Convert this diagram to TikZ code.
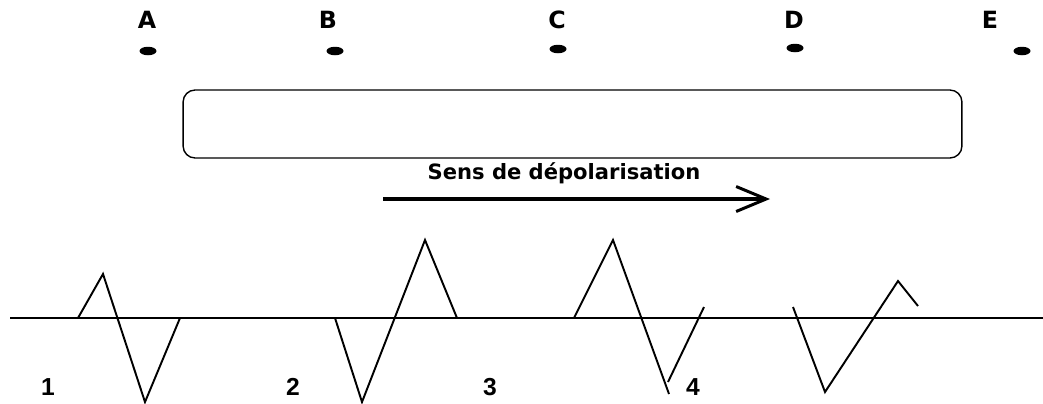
\documentclass[tikz,border=0pt]{standalone}
\usepackage{fontspec}
\setmainfont{Liberation Sans}
\newfontfamily\widefont{DejaVu Sans}
\usepackage{tikz}
\usetikzlibrary{arrows.meta,positioning,shapes.geometric}

\begin{document}
\begin{tikzpicture}[
    x=0.02cm, y=-0.02cm,
    point/.style={ellipse, fill=black, inner sep=0pt, minimum width=0.34cm, minimum height=0.17cm},
    letter/.style={font=\widefont\bfseries\fontsize{13.5}{15}\selectfont, inner sep=0pt},
    number/.style={font=\bfseries\fontsize{14}{16}\selectfont, inner sep=0pt},
    wave/.style={line width=1.1pt, line join=miter},
    sensarrow/.style={-{Straight Barb[length=0.6cm, width=0.5cm, line width=1.7pt]}, line width=1.9pt}
]
\useasboundingbox (0,0) rectangle (1043,403);
\node[letter] (lA) at (147,20) {A};
\node[letter] (lB) at (328,20) {B};
\node[letter] (lC) at (557,20) {C};
\node[letter] (lD) at (794,20) {D};
\node[letter] (lE) at (990,20) {E};
\node[point] (pA) at (148,51) {};
\node[point] (pB) at (335,51) {};
\node[point] (pC) at (558,49) {};
\node[point] (pD) at (795,48) {};
\node[point] (pE) at (1022,51) {};
\node[draw, line width=0.8pt, rounded corners=0.24cm, minimum width=15.58cm, minimum height=1.36cm] (fibre) at (572.5,124) {};
\node[font=\widefont\bfseries\fontsize{12}{14}\selectfont, inner sep=0pt] (sens) at (564,173) {Sens de dépolarisation};
\coordinate (debut) at (383,199);
\coordinate (fin) at (770,199);
\draw[sensarrow] (debut) -- (fin);
\coordinate (gauche) at (10,318);
\coordinate (droite) at (1043,318);
\draw[line width=1.1pt] (gauche) -- (droite);
\draw[wave] (78,318) -- (103,274) -- (145,402) -- (180,318);
\draw[wave] (335,318) -- (362,402) -- (425,240) -- (457,318);
\draw[wave] (574,318) -- (613,240) -- (669,394);
\draw[wave] (668,382) -- (704,307);
\draw[wave] (793,307) -- (825,392) -- (898,281) -- (918,306);
\node[number] (n1) at (48,387) {1};
\node[number] (n2) at (293,387) {2};
\node[number] (n3) at (490,387) {3};
\node[number] (n4) at (693,387) {4};
\end{tikzpicture}
\end{document}
